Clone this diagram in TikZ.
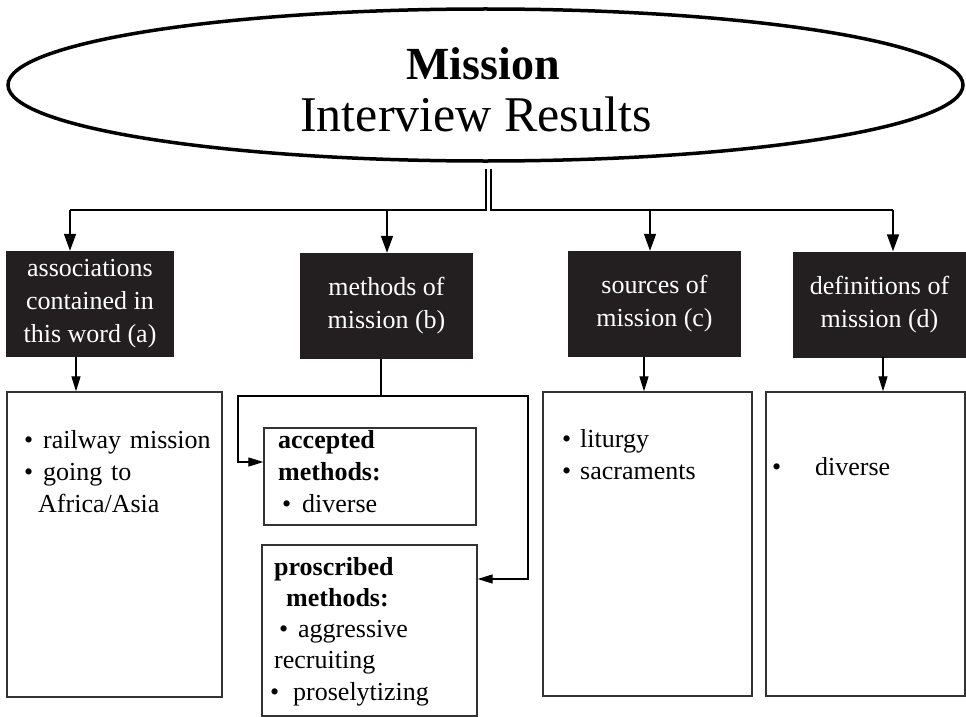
\documentclass[tikz,border=0pt]{standalone}
\usepackage{fontspec}
\setmainfont{Liberation Serif}
\usetikzlibrary{arrows.meta,shapes.geometric}
\definecolor{boxblack}{HTML}{231F20}
\definecolor{rimgray}{HTML}{333333}
\newcommand{\itm}[1][19pt]{\makebox[#1][l]{\textbullet}}

\begin{document}
\begin{tikzpicture}[x=1pt,y=-1pt,
  darkbox/.style={fill=boxblack,text=white,minimum width=173,minimum height=106,
    align=center,inner sep=0,font=\fontsize{26}{33}\selectfont},
  listbox/.style={draw=rimgray,line width=1.3pt,inner sep=0},
  listtext/.style={anchor=base west,inner sep=0,text width=190pt,align=left,
    font=\fontsize{26}{32}\selectfont},
  trunk/.style={line width=1.6pt},
  bigarr/.style={line width=1.6pt,-{Triangle[length=17pt,width=12pt]}},
  smallarr/.style={line width=1.2pt,-{Triangle[length=15pt,width=9pt]}}]
\useasboundingbox (0,0) rectangle (966,717);

% title
\node[ellipse,draw,line width=3.5pt,minimum width=955,minimum height=152,inner sep=0] (mission) at (485.5,85) {};
\node[anchor=base,inner sep=0,font=\fontsize{46}{50}\selectfont\bfseries] (missiontitle) at (483,79) {Mission};
\node[anchor=base,inner sep=0,font=\fontsize{50}{50}\selectfont] (missionsub) at (476,131) {Interview Results};

% the four headings
\node[darkbox,minimum width=168] (assoc) at (90,304) {associations\\contained in\\this word (a)};
\node[darkbox] (methods) at (386.5,306) {methods of\\mission (b)};
\node[darkbox] (sources) at (654.5,304) {sources of\\mission (c)};
\node[darkbox] (defs) at (879.5,304.5) {definitions of\\mission (d)};

% trunk down from the ellipse
\coordinate (ja) at (70,210);
\coordinate (jb) at (387,210);
\coordinate (jc) at (650,210);
\coordinate (jd) at (893,210);
\draw[trunk] (485.7,169) |- (ja);
\draw[trunk] (490.7,169) |- (jd);
\draw[bigarr] (ja) -- (ja |- assoc.north);
\draw[bigarr] (jb) -- (jb |- methods.north);
\draw[bigarr] (jc) -- (jc |- sources.north);
\draw[bigarr] (jd) -- (jd |- defs.north);

% result boxes
\node[listbox,minimum width=215,minimum height=305] (assocbox) at (114.5,544.5) {};
\node[listbox,minimum width=209,minimum height=304] (sourcesbox) at (647.5,544) {};
\node[listbox,minimum width=199,minimum height=304] (defsbox) at (865.5,544) {};
\node[listbox,minimum width=212,minimum height=97] (accepted) at (370,476.5) {};
\node[listbox,minimum width=215,minimum height=171] (proscribed) at (369.5,630.5) {};

\coordinate (ka) at (76,357);
\coordinate (kc) at (644,357);
\coordinate (kd) at (883,357);
\draw[smallarr] (ka) -- (ka |- assocbox.north);
\draw[smallarr] (kc) -- (kc |- sourcesbox.north);
\draw[smallarr] (kd) -- (kd |- defsbox.north);

% methods splits in two
\coordinate (mb) at (381,396);
\coordinate (la) at (238,462);
\coordinate (ra) at (528,579);
\draw[line width=1.2pt] (methods.south -| mb) -- (mb);
\draw[smallarr] (mb) -| (la) -- (la -| accepted.west);
\draw[smallarr] (mb) -| (ra) -- (ra -| proscribed.east);

% texts
\node[listtext] (assoclist) at (24,448) {\itm railway mission\\\itm going to\\\hspace*{14pt}Africa/Asia};
\node[listtext] (sourceslist) at (562,447) {\itm[18pt]liturgy\\\itm[18pt]sacraments};
\node[listtext] (defslist) at (772,475) {\itm[43pt]diverse};
\node[listtext] (acceptedlist) at (278,448) {\textbf{accepted}\\\textbf{methods:}\\\hspace*{4pt}\itm[20pt]diverse};
\node[listtext,font=\fontsize{26}{31.25}\selectfont] (proscribedlist) at (274,575) {\textbf{proscribed}\\\hspace*{12pt}\textbf{methods:}\\\hspace*{5pt}\itm[19pt]aggressive\\recruiting\\\hspace*{-4pt}\itm[23pt]proselytizing};
\end{tikzpicture}
\end{document}
